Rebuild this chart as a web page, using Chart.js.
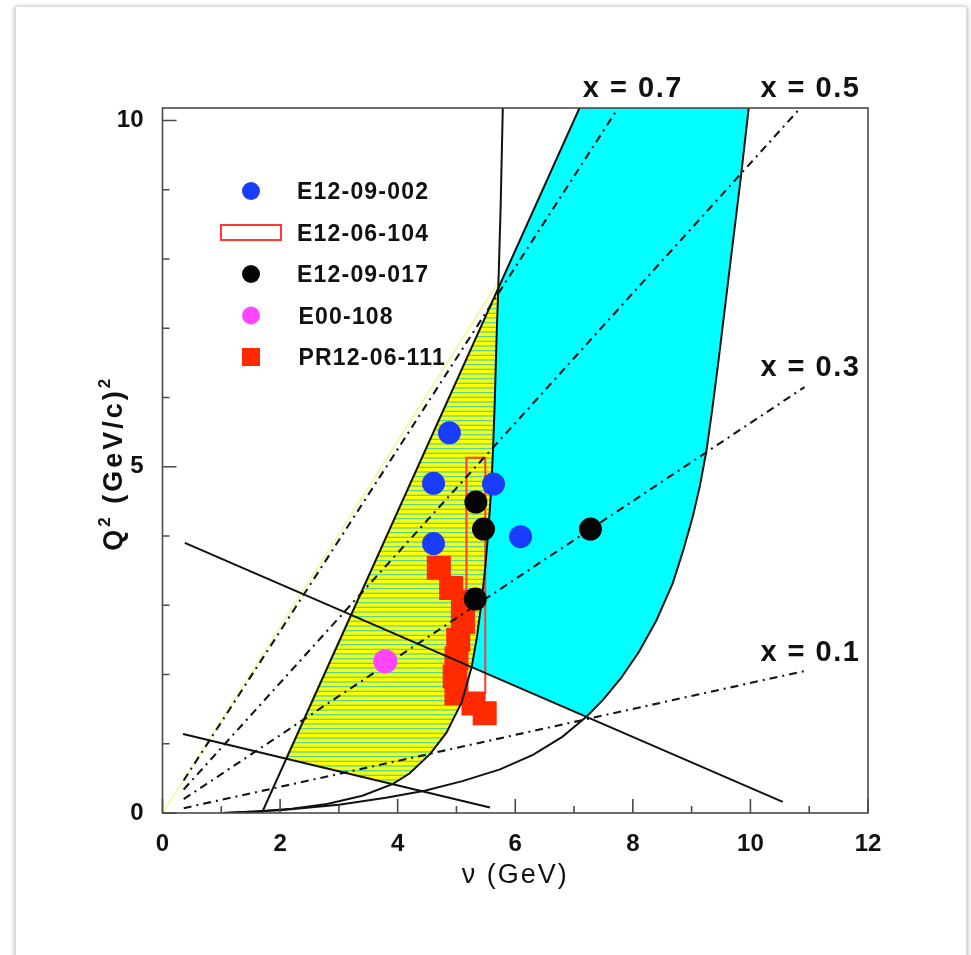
<!DOCTYPE html>
<html>
<head>
<meta charset="utf-8">
<script src="https://cdn.jsdelivr.net/npm/chart.js@4.4.1/dist/chart.umd.min.js"></script>
<style>
  html, body { margin: 0; padding: 0; background: #fff; }
  body { width: 971px; height: 955px; position: relative; overflow: hidden; }
  #sheet { position: absolute; left: 15px; top: 6px; width: 950px; height: 1000px;
           border: 1px solid #dcdcdc; box-shadow: 0 1px 5px rgba(0,0,0,0.35); background: #fff; }
  #kinematics { position: absolute; left: 0; top: 0; }
</style>
</head>
<body>
<div id="sheet"></div>
<canvas id="kinematics" width="971" height="955"></canvas>
<script>
// ---- experiment points (nu in GeV, Q2 in (GeV/c)^2) ----
const e1209002Nu = [4.88, 4.61, 4.61, 5.63, 6.09];
const e1209002Q2 = [5.49, 4.76, 3.89, 4.75, 3.99];

const e1209017Nu = [5.33, 5.46, 5.32, 7.28];
const e1209017Q2 = [4.49, 4.10, 3.09, 4.10];

const e00108Nu = [3.79];
const e00108Q2 = [2.19];

const pr1206111Nu = [4.70, 4.91, 5.11, 5.11, 5.03, 5.00, 4.97, 5.00, 5.29, 5.48];
const pr1206111Q2 = [3.54, 3.25, 3.05, 2.76, 2.50, 2.23, 1.97, 1.73, 1.58, 1.44];

// E12-06-104 box corners
const e1206104Box = [[5.17, 1.73], [5.49, 1.73], [5.49, 5.13], [5.17, 5.13], [5.17, 1.73]];

// ---- kinematic lines ----
const lineW2 = [[1.69, 0], [7.13, 10.25]];
const lineTheta11 = [[0.38, 3.90], [10.55, 0.16]];
const lineTheta6 = [[0.35, 1.14], [5.57, 0.08]];
const curveLow = [[1.03, 0], [1.6, 0.02], [2.2, 0.06], [2.8, 0.13], [3.4, 0.25], [3.92, 0.42],
  [4.2, 0.57], [4.55, 0.85], [4.83, 1.16], [5.09, 1.6], [5.26, 2.11], [5.35, 2.55], [5.43, 3.07],
  [5.49, 3.55], [5.54, 4.05], [5.585, 4.6], [5.62, 5.2], [5.65, 5.9], [5.68, 6.8], [5.712, 7.6],
  [5.75, 8.7], [5.79, 10.25]];
const curveHigh = [[1.03, 0], [2.0, 0.04], [3.0, 0.12], [3.8, 0.22], [4.46, 0.32], [5.1, 0.46],
  [5.74, 0.63], [6.3, 0.84], [6.8, 1.1], [7.21, 1.39], [7.5, 1.64], [7.8, 1.95], [8.1, 2.32],
  [8.4, 2.78], [8.68, 3.32], [8.86, 3.8], [9.02, 4.28], [9.14, 4.72], [9.25, 5.22], [9.35, 5.82],
  [9.46, 6.55], [9.66, 7.95], [9.84, 9.2], [9.98, 10.25]];
const xLine07 = [[0.36, 0.47], [7.75, 10.18]];
const xLine05 = [[0.36, 0.34], [10.85, 10.18]];
const xLine03 = [[0.36, 0.20], [10.92, 6.15]];
const xLine01 = [[0.36, 0.07], [10.92, 2.05]];
const yellowEdge = [[0, 0], [5.72, 7.68]];

// ---- shaded regions ----
const cyanRegion = [[5.712, 7.6], [7.13, 10.25], [9.98, 10.25], [9.84, 9.2], [9.66, 7.95],
  [9.46, 6.55], [9.35, 5.82], [9.25, 5.22], [9.14, 4.72], [9.02, 4.28], [8.86, 3.8], [8.68, 3.32],
  [8.4, 2.78], [8.1, 2.32], [7.8, 1.95], [7.5, 1.64], [7.21, 1.39], [5.26, 2.11], [5.35, 2.55],
  [5.43, 3.07], [5.49, 3.55], [5.54, 4.05], [5.585, 4.6], [5.62, 5.2], [5.65, 5.9], [5.68, 6.8],
  [5.712, 7.6]];
const yellowRegion = [[2.084, 0.789], [5.78, 7.72], [5.68, 6.8], [5.65, 5.9], [5.62, 5.2],
  [5.585, 4.6], [5.54, 4.05], [5.49, 3.55], [5.43, 3.07], [5.35, 2.55], [5.26, 2.11], [5.09, 1.6],
  [4.83, 1.16], [4.55, 0.85], [4.2, 0.57], [3.92, 0.42], [2.084, 0.789]];

// ---- axes / labels ----
const xMinorTicks = [1, 3, 5, 7, 9, 11];
const xMajorTicks = [0, 2, 4, 6, 8, 10, 12];
const yMinorTicks = [1, 2, 3, 4, 6, 7, 8, 9];
const yMajorTicks = [0, 5, 10];
const xLabels = [
  { text: 'x = 0.7', nu: 7.15, q2: 10.34 },
  { text: 'x = 0.5', nu: 10.17, q2: 10.34 },
  { text: 'x = 0.3', nu: 10.17, q2: 6.31 },
  { text: 'x = 0.1', nu: 10.17, q2: 2.20 }
];
const legendOrder = ['E12-09-002', 'E12-06-104', 'E12-09-017', 'E00-108', 'PR12-06-111'];

const FONT = "'Liberation Sans', Arial, Helvetica, sans-serif";
Chart.defaults.font.family = FONT;

const pts = (nu, q2) => nu.map((v, i) => ({ x: v, y: q2[i] }));
const path = pairs => pairs.map(([x, y]) => ({ x, y }));

function hatchPattern(ctx) {
  const c = document.createElement('canvas');
  c.width = 8; c.height = 14;
  const g = c.getContext('2d');
  g.fillStyle = '#ffff00';
  g.fillRect(0, 0, 8, 14);
  g.fillStyle = '#52d6a2';
  [0, 4.67, 9.33].forEach(y0 => g.fillRect(0, y0, 8, 1.3));
  return ctx.createPattern(c, 'repeat');
}

function solid(data, color, width) {
  return { data: path(data), showLine: true, pointRadius: 0, borderColor: color,
           borderWidth: width, tension: 0, fill: false };
}
function dashDot(data) {
  return { data: path(data), showLine: true, pointRadius: 0, borderColor: '#151515',
           borderWidth: 2.1, borderDash: [8, 5, 2, 5], tension: 0, fill: false };
}
function marker(label, data, color, style, radius) {
  return { label, data, showLine: false, pointStyle: style, pointRadius: radius,
           pointBackgroundColor: color, backgroundColor: color, pointBorderWidth: 0, borderWidth: 0 };
}

const canvas = document.getElementById('kinematics');
const ctx = canvas.getContext('2d');

const datasets = [
  marker('E12-09-017', pts(e1209017Nu, e1209017Q2), '#050505', 'circle', 11.5),
  marker('E00-108', pts(e00108Nu, e00108Q2), '#ff45ff', 'circle', 12),
  marker('E12-09-002', pts(e1209002Nu, e1209002Q2), '#1a3cff', 'circle', 11.5),
  solid(curveLow, '#111', 2),
  solid(curveHigh, '#111', 2),
  solid(lineW2, '#111', 2),
  solid(lineTheta11, '#111', 2),
  solid(lineTheta6, '#111', 2),
  dashDot(xLine07),
  dashDot(xLine05),
  dashDot(xLine03),
  dashDot(xLine01),
  marker('PR12-06-111', pts(pr1206111Nu, pr1206111Q2), '#ff2a00', 'rect', 17),
  Object.assign(solid(e1206104Box, '#ff3b2f', 2), { label: 'E12-06-104' }),
  solid(yellowEdge, '#f4f47c', 1.2),
  { data: path(cyanRegion), showLine: true, pointRadius: 0, borderColor: 'rgba(0,0,0,0)',
    borderWidth: 0, backgroundColor: '#00ffff', fill: 'shape', tension: 0 },
  { data: path(yellowRegion), showLine: true, pointRadius: 0, borderColor: 'rgba(0,0,0,0)',
    borderWidth: 0, backgroundColor: hatchPattern(ctx), fill: 'shape', tension: 0 }
];

function spacedText(c, text, x, y, spacing) {
  if ('letterSpacing' in c) c.letterSpacing = spacing + 'px';
  c.fillText(text, x, y);
  if ('letterSpacing' in c) c.letterSpacing = '0px';
}

// frame, inward ticks, annotations, axis titles, legend
const decor = {
  id: 'decor',
  afterDraw(chart) {
    const { ctx: c, chartArea: a, scales: { x, y } } = chart;
    c.save();
    c.strokeStyle = '#4a4a4a';
    c.lineWidth = 1.6;
    c.strokeRect(a.left, a.top, a.right - a.left, a.bottom - a.top);

    c.beginPath();
    xMajorTicks.forEach(v => { const px = x.getPixelForValue(v); c.moveTo(px, a.bottom); c.lineTo(px, a.bottom - 14); });
    xMinorTicks.forEach(v => { const px = x.getPixelForValue(v); c.moveTo(px, a.bottom); c.lineTo(px, a.bottom - 7); });
    yMajorTicks.forEach(v => { const py = y.getPixelForValue(v); c.moveTo(a.left, py); c.lineTo(a.left + 14, py); });
    yMinorTicks.forEach(v => { const py = y.getPixelForValue(v); c.moveTo(a.left, py); c.lineTo(a.left + 7, py); });
    c.stroke();

    c.fillStyle = '#111';
    c.textBaseline = 'alphabetic';
    c.textAlign = 'left';
    c.font = 'bold 29px ' + FONT;
    xLabels.forEach(l => spacedText(c, l.text, x.getPixelForValue(l.nu), y.getPixelForValue(l.q2), 1.5));

    // x title
    c.font = '27px ' + FONT;
    c.textAlign = 'center';
    spacedText(c, 'ν (GeV)', (a.left + a.right) / 2, a.bottom + 70, 2);

    // y title with superscripts
    c.save();
    c.translate(a.left - 41, y.getPixelForValue(5.05));
    c.rotate(-Math.PI / 2);
    c.textAlign = 'left';
    const parts = [['Q', 27, 0], ['2', 17, -12], [' (GeV/c)', 27, 0], ['2', 17, -12]];
    const sp = 3;
    let total = 0;
    parts.forEach(([t, s]) => { c.font = 'bold ' + s + 'px ' + FONT; total += c.measureText(t).width + sp * t.length; });
    let cx = -total / 2;
    parts.forEach(([t, s, dy]) => {
      c.font = 'bold ' + s + 'px ' + FONT;
      spacedText(c, t, cx, dy, sp);
      cx += c.measureText(t).width + sp * t.length;
    });
    c.restore();

    // legend inside the frame
    const lx = a.left + 88.5;
    const ly = a.top + 83;
    legendOrder.forEach((name, i) => {
      const ds = chart.data.datasets.find(d => d.label === name);
      const cy = ly + i * 41.5;
      if (ds.pointStyle === 'circle') {
        c.fillStyle = ds.pointBackgroundColor;
        c.beginPath(); c.arc(lx, cy, 9, 0, Math.PI * 2); c.fill();
      } else if (ds.pointStyle === 'rect') {
        c.fillStyle = ds.pointBackgroundColor;
        c.fillRect(lx - 9, cy - 9, 18, 18);
      } else {
        c.strokeStyle = ds.borderColor;
        c.lineWidth = 2;
        c.strokeRect(lx - 30, cy - 7.5, 60, 15);
      }
      c.fillStyle = '#111';
      c.font = 'bold 23px ' + FONT;
      c.textAlign = 'left';
      spacedText(c, name, lx + 46 + (i >= 3 ? 1.5 : 0), cy + 8.3, 1.2);
    });
    c.restore();
  }
};

new Chart(ctx, {
  type: 'scatter',
  data: { datasets },
  options: {
    responsive: false,
    animation: false,
    events: [],
    layout: { padding: { left: 0, right: 103, top: 108, bottom: 0 } },
    plugins: { legend: { display: false }, tooltip: { enabled: false } },
    scales: {
      x: {
        type: 'linear', min: 0, max: 12,
        afterFit: s => { s.height = 142; },
        grid: { display: false, drawTicks: false },
        border: { display: false },
        ticks: { stepSize: 2, includeBounds: false, padding: 17, color: '#111',
                 font: { size: 24, weight: 'bold' } }
      },
      y: {
        type: 'linear', min: 0, max: 10.18,
        afterFit: s => { s.width = 162.5; },
        grid: { display: false, drawTicks: false },
        border: { display: false },
        ticks: { stepSize: 5, includeBounds: false, padding: 19, color: '#111',
                 font: { size: 24, weight: 'bold' } }
      }
    }
  },
  plugins: [decor]
});
</script>
</body>
</html>
